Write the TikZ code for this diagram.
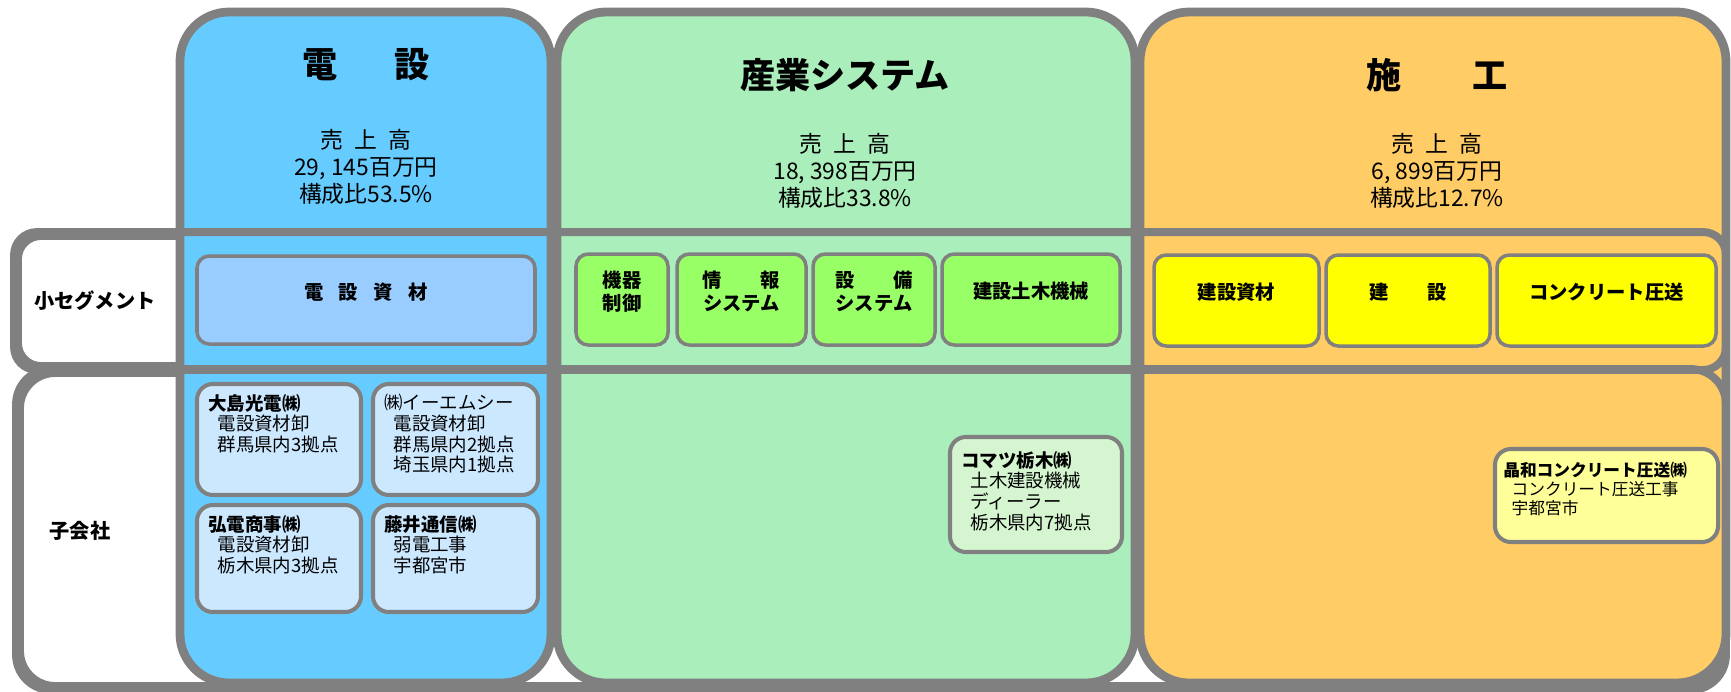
\documentclass[tikz,border=0pt]{standalone}
\usepackage{fontspec}
\setmainfont{Noto Sans CJK JP}
\usepackage{tikz}
\usetikzlibrary{positioning,fit}
\definecolor{frame}{HTML}{808080}
\definecolor{densetsu}{HTML}{66CCFF}
\definecolor{sangyo}{HTML}{AAEEBB}
\definecolor{sekou}{HTML}{FFCC66}
\definecolor{segblue}{HTML}{99CCFF}
\definecolor{seggreen}{HTML}{99FF66}
\definecolor{segyellow}{HTML}{FFFF00}
\definecolor{subblue}{HTML}{CCE8FF}
\definecolor{subgreen}{HTML}{D4F5CF}
\definecolor{subyellow}{HTML}{FFFF99}
\tikzset{
  vrow/.style={draw=frame,line width=4.5pt,inner sep=0pt},
  vcol/.style={draw=frame,line width=5pt,rounded corners=28pt,inner sep=0pt},
  vseg/.style={draw=frame,line width=2pt,rounded corners=7pt,inner sep=0pt,align=center,font=\bfseries\fontsize{11}{13}\selectfont},
  vsub/.style={draw=frame,line width=2.3pt,rounded corners=9pt,inner sep=0pt},
  vtitle/.style={font=\bfseries\fontsize{20}{22}\selectfont},
  vsales/.style={align=center,font=\fontsize{13}{15.5}\selectfont},
  vlabel/.style={font=\bfseries\fontsize{11.5}{13}\selectfont},
  vname/.style={anchor=north west,inner sep=0pt,align=left,font=\fontsize{10.5}{11.8}\selectfont}
}
\begin{document}
\begin{tikzpicture}[x=0.02cm,y=-0.02cm]
  \useasboundingbox (0,0) rectangle (1731,691);
  % row bands
  \node[vrow,fill=white,rounded corners=13pt,fit={(18,236) (1722,366)}] (rseg) {};
  \node[vrow,fill=white,rounded corners=20pt,fit={(20,373) (1722,686)}] (rsub) {};
  % segment columns
  \node[vcol,fill=densetsu,fit={(180,12) (551,683)}] (cden) {};
  \node[vcol,fill=sangyo,fit={(557,12) (1135,683)}] (csan) {};
  \node[vcol,fill=sekou,fit={(1140,12) (1726,683)}] (csek) {};
  % row frames again, over the columns
  \draw[draw=frame,line width=4.5pt,rounded corners=13pt] (rseg.north west) rectangle (rseg.south east);
  \draw[draw=frame,line width=4.5pt,rounded corners=20pt] (rsub.north west) rectangle (rsub.south east);
  \node[vlabel] (lseg) at (95,301) {小セグメント};
  \node[vlabel] (lsub) at (80,531) {子会社};
  % headings
  \node[vtitle] (tden) at (366,65) {電\hspace{1.6em}設};
  \node[vtitle] (tsan) at (845,75) {産業システム};
  \node[vtitle] (tsek) at (1437,75) {施\hspace{2em}工};
  \node[vsales] (sden) at (366,167) {売\hspace{.5em}上\hspace{.5em}高\\29, 145百万円\\構成比53.5\%};
  \node[vsales] (ssan) at (845,171) {売\hspace{.5em}上\hspace{.5em}高\\18, 398百万円\\構成比33.8\%};
  \node[vsales] (ssek) at (1437,171) {売\hspace{.5em}上\hspace{.5em}高\\6, 899百万円\\構成比12.7\%};
  % small segments
  \node[vseg,fill=segblue,fit={(197,256) (535,344)}] (gden) {電\hspace{.8em}設\hspace{.8em}資\hspace{.8em}材};
  \node[vseg,fill=seggreen,fit={(576,254) (668,345)}] (gkiki) {機器\\制御};
  \node[vseg,fill=seggreen,fit={(677,254) (806,345)}] (gjoho) {情\hspace{2em}報\\システム};
  \node[vseg,fill=seggreen,fit={(813,254) (935,345)}] (gsetsubi) {設\hspace{2em}備\\システム};
  \node[vseg,fill=seggreen,fit={(942,254) (1120,345)}] (gdoboku) {建設土木機械};
  \node[vseg,fill=segyellow,fit={(1154,255) (1319,346)}] (gshizai) {建設資材};
  \node[vseg,fill=segyellow,fit={(1326,255) (1490,346)}] (gkensetsu) {建\hspace{2em}設};
  \node[vseg,fill=segyellow,fit={(1497,255) (1716,346)}] (gassou) {コンクリート圧送};
  % subsidiaries
  \node[vsub,fill=subblue,fit={(197,384) (361,495)}] (sohshima) {};
  \node[vsub,fill=subblue,fit={(373,384) (538,495)}] (semc) {};
  \node[vsub,fill=subblue,fit={(197,505) (361,612)}] (skoden) {};
  \node[vsub,fill=subblue,fit={(373,505) (538,612)}] (sfujii) {};
  \node[vsub,fill=subgreen,fit={(950,437) (1122,552)}] (skomatsu) {};
  \node[vsub,fill=subyellow,fit={(1495,449) (1718,542)}] (sshowa) {};
  \node[vname] (nohshima) at ([shift={(13,12)}]sohshima.north west) {\textbf{大島光電㈱}\\\hspace*{.5em}電設資材卸\\\hspace*{.5em}群馬県内3拠点};
  \node[vname] (nemc) at ([shift={(13,12)}]semc.north west) {㈱イーエムシー\\\hspace*{.5em}電設資材卸\\\hspace*{.5em}群馬県内2拠点\\\hspace*{.5em}埼玉県内1拠点};
  \node[vname] (nkoden) at ([shift={(13,12)}]skoden.north west) {\textbf{弘電商事㈱}\\\hspace*{.5em}電設資材卸\\\hspace*{.5em}栃木県内3拠点};
  \node[vname] (nfujii) at ([shift={(13,12)}]sfujii.north west) {\textbf{藤井通信㈱}\\\hspace*{.5em}弱電工事\\\hspace*{.5em}宇都宮市};
  \node[vname] (nkomatsu) at ([shift={(13,16)}]skomatsu.north west) {\textbf{コマツ栃木㈱}\\\hspace*{.5em}土木建設機械\\\hspace*{.5em}ディーラー\\\hspace*{.5em}栃木県内7拠点};
  \node[vname,font=\fontsize{9.5}{10.8}\selectfont] (nshowa) at ([shift={(10,15)}]sshowa.north west) {\textbf{晶和コンクリート圧送㈱}\\\hspace*{.5em}コンクリート圧送工事\\\hspace*{.5em}宇都宮市};
\end{tikzpicture}
\end{document}
